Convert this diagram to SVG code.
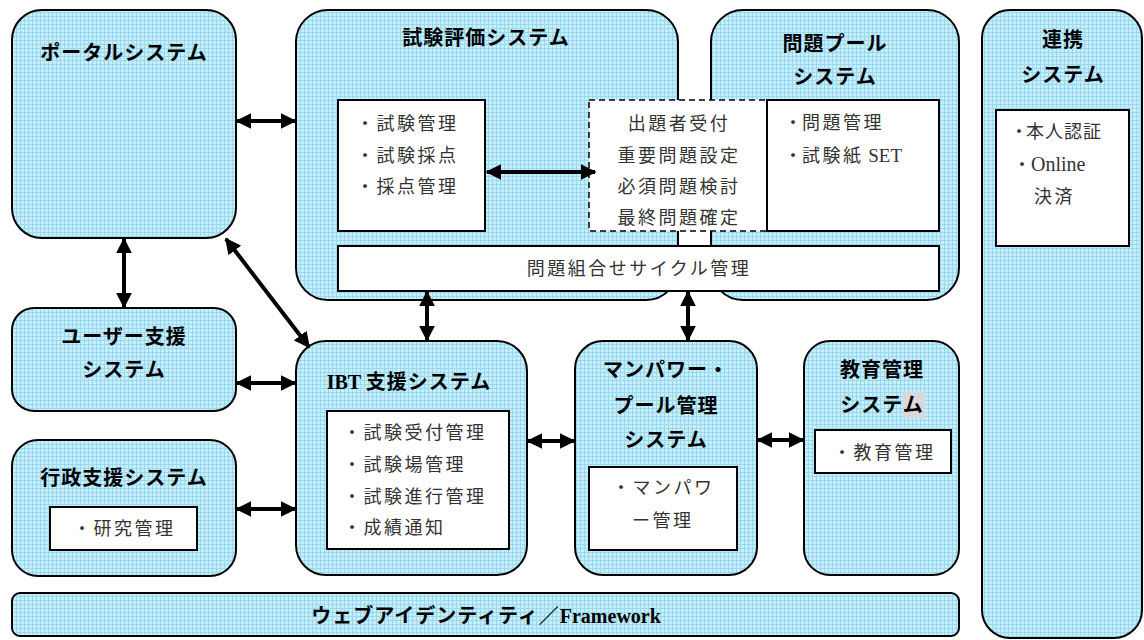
<svg xmlns="http://www.w3.org/2000/svg" width="1144" height="640" viewBox="0 0 1144 640">
<defs>
<pattern id="hatch" width="4" height="4" patternUnits="userSpaceOnUse">
<rect width="4" height="4" fill="#c8eefb"/>
<rect width="4" height="1" fill="#96d9f1"/>
<rect width="1" height="4" fill="#96d9f1"/>
</pattern>
<marker id="ah" viewBox="0 0 10 10" refX="9" refY="5" markerWidth="16" markerHeight="16" markerUnits="userSpaceOnUse" orient="auto-start-reverse">
<path d="M0,0 L10,5 L0,10 Z" fill="#000"/>
</marker>
<style>
.sys{fill:url(#hatch);stroke:#000;stroke-width:2}
.box{fill:#fff;stroke:#000;stroke-width:2}
.dash{fill:#fff;stroke:#000;stroke-width:1.5;stroke-dasharray:6,4}
.t{font-family:"Liberation Serif","Noto Sans CJK JP",serif;font-size:20px;letter-spacing:1px;font-weight:bold;fill:#000;text-anchor:middle}
.i{font-family:"Liberation Serif","Noto Sans CJK JP",serif;font-size:18px;letter-spacing:2.5px;fill:#333}
.ic{font-family:"Liberation Serif","Noto Sans CJK JP",serif;font-size:18px;letter-spacing:2.5px;fill:#333;text-anchor:middle}
.lat{letter-spacing:0}
.nb{letter-spacing:-2px}
.c{stroke:#000;stroke-width:4;fill:none;marker-start:url(#ah);marker-end:url(#ah)}
</style>
</defs>

<g id="portal">
<rect class="sys" x="12" y="10" width="224" height="228" rx="30"/>
<text class="t" x="124" y="60">ポータルシステム</text>
</g>

<g id="shiken-hyoka">
<rect class="sys" x="296" y="10" width="382" height="290" rx="32"/>
<text class="t" x="486" y="45">試験評価システム</text>
</g>

<g id="mondai-pool">
<rect class="sys" x="711" y="10" width="248" height="290" rx="32"/>
<text class="t" x="835" y="51">問題プール</text>
<text class="t" x="835" y="84">システム</text>
</g>

<g id="shiken-kanri">
<rect class="box" x="338" y="100" width="147" height="131"/>
<text class="i" x="356" y="130">・試験管理</text>
<text class="i" x="356" y="162">・試験採点</text>
<text class="i" x="356" y="193">・採点管理</text>
</g>

<g id="shutsudai">
<rect class="dash" x="589" y="100" width="178" height="131"/>
<text class="ic" x="679" y="130">出題者受付</text>
<text class="ic" x="679" y="162">重要問題設定</text>
<text class="ic" x="679" y="193">必須問題検討</text>
<text class="ic" x="679" y="224">最終問題確定</text>
</g>

<g id="mondai-kanri">
<rect class="box" x="767" y="100" width="172" height="131"/>
<text class="i" x="784" y="129"><tspan class="lat">・</tspan>問題管理</text>
<text class="i" x="784" y="162"><tspan class="lat">・</tspan>試験紙<tspan class="lat" style="font-size:19px"> SET</tspan></text>
</g>

<g id="kumiawase">
<rect class="box" x="338" y="246" width="601" height="45"/>
<text class="ic" x="639" y="275">問題組合せサイクル管理</text>
</g>

<g id="renkei">
<rect class="sys" x="982" y="10" width="160" height="628" rx="28"/>
<text class="t" x="1063" y="47">連携</text>
<text class="t" x="1063" y="82">システム</text>
<rect class="box" x="996" y="110" width="133" height="136"/>
<text class="i" x="1010" y="138" style="letter-spacing:1px"><tspan class="nb">・</tspan>本人認証</text>
<text class="i" x="1013" y="171"><tspan class="lat">・</tspan><tspan class="lat" style="font-size:20px">Online</tspan></text>
<text class="i" x="1034" y="203">決済</text>
</g>

<g id="user-shien">
<rect class="sys" x="12" y="308" width="224" height="103" rx="22"/>
<text class="t" x="124" y="344">ユーザー支援</text>
<text class="t" x="124" y="377">システム</text>
</g>

<g id="gyosei-shien">
<rect class="sys" x="12" y="440" width="224" height="136" rx="26"/>
<text class="t" x="124" y="485">行政支援システム</text>
<rect class="box" x="50" y="507" width="147" height="43"/>
<text class="i" x="73" y="535">・研究管理</text>
</g>

<g id="ibt-shien">
<rect class="sys" x="296" y="341" width="231" height="234" rx="30"/>
<text class="t" x="409" y="389"><tspan class="lat">IBT </tspan>支援システム</text>
<rect class="box" x="327" y="411" width="182" height="138"/>
<text class="i" x="343" y="439">・試験受付管理</text>
<text class="i" x="343" y="471">・試験場管理</text>
<text class="i" x="343" y="503">・試験進行管理</text>
<text class="i" x="343" y="534">・成績通知</text>
</g>

<g id="manpower">
<rect class="sys" x="575" y="341" width="182" height="234" rx="28"/>
<text class="t" x="666" y="377">マンパワー・</text>
<text class="t" x="666" y="413">プール管理</text>
<text class="t" x="666" y="447">システム</text>
<rect class="box" x="589" y="467" width="148" height="83"/>
<text class="i" x="612" y="494">・マンパワ</text>
<text class="i" x="632" y="527">ー管理</text>
</g>

<g id="kyoiku-kanri">
<rect class="sys" x="804" y="341" width="155" height="234" rx="26"/>
<text class="t" x="882" y="377">教育管理</text>
<rect x="903" y="392" width="22" height="26" fill="#d9d9d9"/>
<text class="t" x="882" y="412">システム</text>
<rect class="box" x="815" y="430" width="136" height="43"/>
<text class="i" x="833" y="459">・教育管理</text>
</g>

<g id="web-identity">
<rect class="sys" x="12" y="593" width="947" height="43" rx="8"/>
<text class="t" x="486" y="623">ウェブアイデンティティ／<tspan class="lat">Framework</tspan></text>
</g>

<g id="connectors">
<line class="c" x1="237" y1="121" x2="295" y2="121"/>
<line class="c" x1="487" y1="172" x2="595" y2="172"/>
<line class="c" x1="124" y1="239" x2="124" y2="307"/>
<line class="c" x1="226" y1="239" x2="309" y2="347"/>
<line class="c" x1="237" y1="383" x2="295" y2="383"/>
<line class="c" x1="237" y1="509" x2="295" y2="509"/>
<line class="c" x1="427" y1="292" x2="427" y2="340"/>
<line class="c" x1="688" y1="292" x2="688" y2="340"/>
<line class="c" x1="528" y1="441" x2="574" y2="441"/>
<line class="c" x1="758" y1="440" x2="803" y2="440"/>
</g>
</svg>
